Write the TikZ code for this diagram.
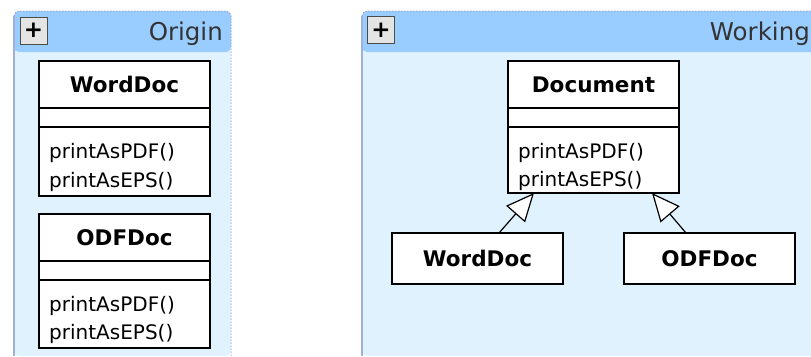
\documentclass[tikz,border=0pt]{standalone}
\usepackage{fontspec}
\setmainfont{DejaVu Sans}
\usetikzlibrary{arrows.meta,calc}

\definecolor{pkghead}{RGB}{153,204,255}
\definecolor{pkgbody}{RGB}{225,242,255}
\definecolor{pkgedge}{RGB}{160,176,214}
\definecolor{pkgdots}{RGB}{150,150,200}
\definecolor{btnfill}{RGB}{228,228,228}

\tikzset{
  classbox/.style={draw=black, line width=1.3pt, fill=white, minimum width=171pt, inner sep=0pt, outer sep=0pt},
  classname/.style={font=\fontsize{21.5}{26}\selectfont\bfseries, inner sep=0pt},
  method/.style={font=\fontsize{20}{24}\selectfont, anchor=base west, inner sep=0pt},
  pkgtitle/.style={font=\fontsize{24.5}{28}\selectfont, text=black!80, anchor=base east, inner sep=0pt},
  plusbtn/.style={draw=black!70, line width=0.9pt, fill=btnfill, minimum size=27pt, inner sep=0pt,
    font=\fontsize{23}{23}\selectfont\bfseries},
  inherit/.style={draw=black, line width=1.2pt, -{Triangle[length=28pt, width=25pt, fill=white, line width=1.2pt]}},
  divider/.style={draw=black, line width=1.3pt}
}

\begin{document}
\begin{tikzpicture}[x=1pt, y=-1pt]
\useasboundingbox (0,0) rectangle (811,356);
\fill[white] (0,0) rectangle (811,356);

% ---- package "Origin" ----
\fill[pkgbody, rounded corners=5pt] (14,356) -- (14,11) -- (231,11) -- (231,356) -- cycle;
\fill[pkghead, rounded corners=5pt] (14,52) -- (14,11) -- (231,11) -- (231,52) -- cycle;
\draw[pkgedge, line width=1.4pt] (14,356) -- (14,16);
\draw[pkgdots, line width=1pt, dotted, rounded corners=5pt] (14,16) -- (14,11) -- (231,11) -- (231,356);
\node[plusbtn] (plusA) at (33.5,30.5) {+};
\node[pkgtitle] (titleA) at (223,40) {Origin};

% ---- package "Working" ----
\fill[pkgbody, rounded corners=5pt] (362,356) -- (362,11) -- (820,11) -- (820,356) -- cycle;
\fill[pkghead, rounded corners=5pt] (362,52) -- (362,11) -- (820,11) -- (820,52) -- cycle;
\draw[pkgedge, line width=1.4pt] (362,356) -- (362,16);
\draw[pkgdots, line width=1pt, dotted, rounded corners=5pt] (362,16) -- (362,11) -- (820,11);
\node[plusbtn] (plusB) at (381,30) {+};
\node[pkgtitle] (titleB) at (810,40) {Working};

% ---- class WordDoc (Origin) ----
\node[classbox, minimum height=135pt] (wdA) at (124.5,128.5) {};
\draw[divider] (39,108) -- (210,108);
\draw[divider] (39,127) -- (210,127);
\node[classname] (wdAname) at (124.5,84.5) {WordDoc};
\node[method] (wdAm1) at (49,158) {printAsPDF()};
\node[method] (wdAm2) at (49,187) {printAsEPS()};

% ---- class ODFDoc (Origin) ----
\node[classbox, minimum height=134pt] (odA) at (124.5,281) {};
\draw[divider] (39,261) -- (210,261);
\draw[divider] (39,280) -- (210,280);
\node[classname] (odAname) at (124.5,237.5) {ODFDoc};
\node[method] (odAm1) at (49,311) {printAsPDF()};
\node[method] (odAm2) at (49,339) {printAsEPS()};

% ---- class Document (Working) ----
\node[classbox, minimum height=132pt] (doc) at (593.5,127) {};
\draw[divider] (508,108) -- (679,108);
\draw[divider] (508,127) -- (679,127);
\node[classname] (docname) at (593.5,84.5) {Document};
\node[method] (docm1) at (518,158) {printAsPDF()};
\node[method] (docm2) at (518,186) {printAsEPS()};

% ---- subclasses (Working) ----
\node[classbox, minimum height=51pt, classname, draw=black, line width=1.3pt, fill=white] (wdB) at (477.5,258.5) {WordDoc};
\node[classbox, minimum height=51pt, classname, draw=black, line width=1.3pt, fill=white] (odB) at (709.5,258.5) {ODFDoc};

% ---- generalisation arrows ----
\draw[inherit] ($(wdB.north west)+(107,0)$) -- ($(doc.south west)+(26,0)$);
\draw[inherit] ($(odB.north west)+(62,0)$) -- ($(doc.south west)+(144,0)$);
\end{tikzpicture}
\end{document}
